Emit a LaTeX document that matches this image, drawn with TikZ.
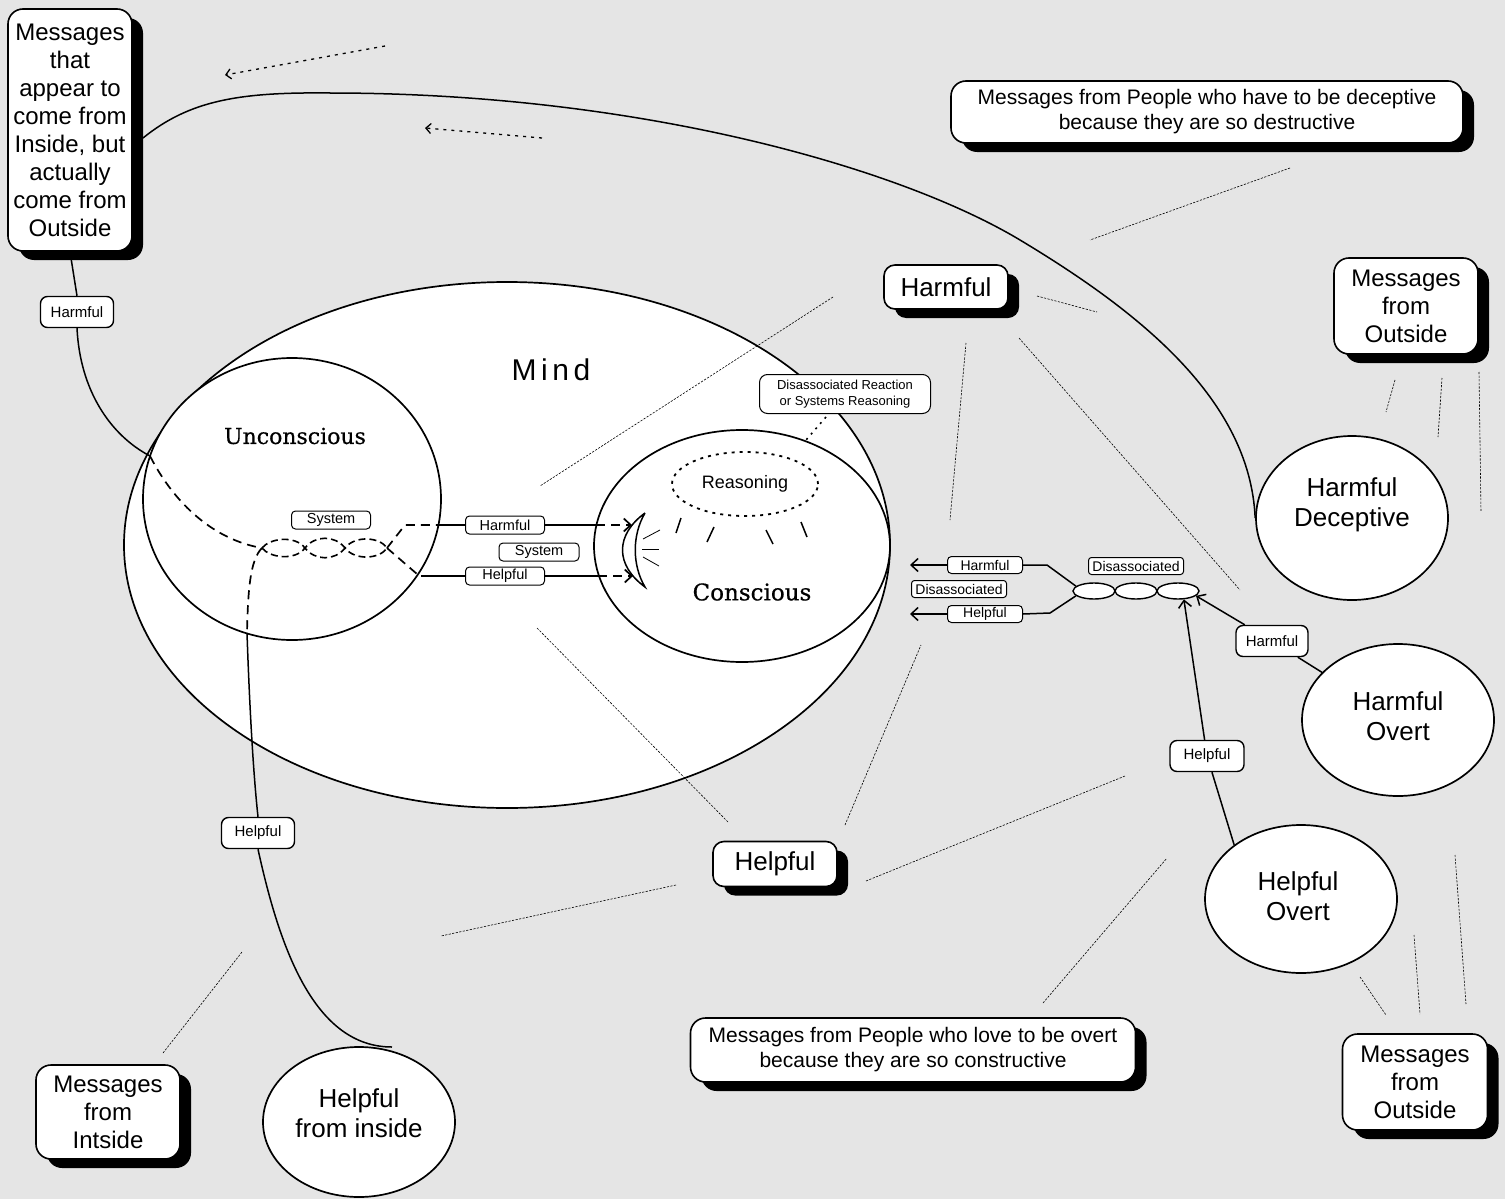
\documentclass[tikz,border=0pt]{standalone}
\usepackage{fontspec}
\setmainfont{Liberation Sans}
\newfontfamily\serifcap[FakeBold=0.6]{DejaVu Serif}
\newfontfamily\mindfont[LetterSpace=15]{Liberation Sans}
\usetikzlibrary{shapes.geometric,shadows,arrows.meta}
\definecolor{bgc}{RGB}{229,229,229}
\begin{document}
\begin{tikzpicture}[x=1pt,y=-1pt,
  ln/.style={line width=1.5pt},
  dsh/.style={line width=1.7pt, dash pattern=on 9pt off 6pt},
  dotl/.style={line width=0.6pt, dash pattern=on 2.2pt off 1.4pt},
  ell/.style={ellipse, draw, line width=1.7pt, fill=white, inner sep=0pt},
  shbox/.style={rectangle, draw, line width=1.6pt, fill=white, rounded corners=15pt, align=center, inner sep=0pt,
    drop shadow={shadow xshift=11pt, shadow yshift=-9pt, fill=black, opacity=1}},
  lbl/.style={rectangle, draw, line width=1pt, fill=white, rounded corners=4pt, inner sep=0pt, minimum height=18pt, font=\fontsize{14.5}{16}\selectfont},
  lblb/.style={rectangle, draw, line width=1.4pt, fill=white, rounded corners=7pt, inner sep=0pt, minimum height=31pt, minimum width=73pt, font=\fontsize{15}{17}\selectfont},
  arr/.style={-{Straight Barb[length=7pt,width=13pt]}},
  bigtxt/.style={font=\fontsize{24}{28}\selectfont},
  elltxt/.style={align=center, font=\fontsize{26}{30}\selectfont},
]
\fill[bgc] (0,0) rectangle (1505,1199);
\useasboundingbox (0,0) rectangle (1505,1199);

% ---------- Mind and its parts ----------
\node[ell, minimum width=766pt, minimum height=526pt] (mind) at (507,545) {};
\node[font=\mindfont\fontsize{30}{36}\selectfont] (mindlbl) at (551,370) {Mind};
\node[ell, minimum width=298pt, minimum height=282pt] (uncon) at (292,499) {};
\node[font=\serifcap\fontsize{22}{26}\selectfont] (unconlbl) at (295,436) {Unconscious};
\node[ell, minimum width=296pt, minimum height=232pt] (consc) at (742,546) {};
\node[font=\serifcap\fontsize{23}{27}\selectfont] (consclbl) at (752,592) {Conscious};
\node[ellipse, draw, line width=1.8pt, dash pattern=on 3pt off 5pt, minimum width=146pt, minimum height=64pt, inner sep=0pt,
  font=\fontsize{18}{20}\selectfont] (reas) at (745,484) {Reasoning};
\node[lbl, minimum width=171pt, minimum height=39pt, rounded corners=8pt, align=center, font=\fontsize{13}{16}\selectfont]
  (dr) at (845,394) {Disassociated Reaction\\or Systems Reasoning};
\draw[line width=1.6pt, dash pattern=on 2pt off 5pt] (826,417) coordinate (drA) -- (806,440) coordinate (drB);

% ticks under Reasoning
\draw[ln] (681,518) -- (676,533);
\draw[ln] (714,527) -- (707,542);
\draw[ln] (766,530) -- (773,544);
\draw[ln] (801,522) -- (807,537);

% crescent (eye)
\coordinate (crT) at (645,513);
\coordinate (crB) at (645,587);
\draw[ln] (crT) .. controls (615,535) and (615,565) .. (crB) .. controls (632,565) and (632,535) .. (crT);
\draw[line width=0.8pt] (643,539) -- (660,530);
\draw[line width=0.8pt] (642,549) -- (659,549);
\draw[line width=0.8pt] (643,557) -- (659,566);

% ---------- braid and system paths ----------
\coordinate (bL) at (262,548);
\coordinate (bR) at (387,548);
\draw[line width=1.6pt, dash pattern=on 7pt off 4pt]
  (bL) .. controls (270,538) and (295,535) .. (305,548) .. controls (315,561) and (335,561) .. (345,548)
       .. controls (355,535) and (380,537) .. (bR);
\draw[line width=1.6pt, dash pattern=on 7pt off 4pt]
  (bL) .. controls (270,558) and (295,561) .. (305,548) .. controls (315,535) and (335,535) .. (345,548)
       .. controls (355,561) and (380,559) .. (bR);

\node[lbl, minimum width=79pt] (sys1) at (331,520) {System};
\node[lbl, minimum width=80pt] (sys2) at (539,552) {System};
\node[lbl, minimum width=79pt] (hm1) at (505,525) {Harmful};
\node[lbl, minimum width=79pt] (hp0) at (505,576) {Helpful};

% harmful line
\draw[dsh] (bR) -- (405,525) -- (438,525) coordinate (uH);
\draw[ln] (uH) -- (hm1.west);
\draw[ln] (hm1.east) -- (596,525) coordinate (cH);
\draw[dsh, arr] (cH) -- (632,525) coordinate (mH);
% helpful line
\draw[dsh] (bR) -- (417,574) coordinate (uP);
\draw[ln] (uP) ++(4,2) coordinate (uP2) -- (hp0.west);
\draw[ln] (hp0.east) -- (598,576) coordinate (cP);
\draw[dsh, arr] (cP) -- (633,576) coordinate (mP);

% ---------- top-left box ----------
\node[shbox, bigtxt, minimum width=124pt, minimum height=242pt] (tlbox) at (70,130)
  {Messages\\that\\appear to\\come from\\Inside, but\\actually\\come from\\Outside};
\node[lblb, minimum width=73pt] (hl1) at (77,312) {Harmful};
\coordinate (ucL) at (150,456);
\draw[ln] (tlbox.south) -- (hl1.north);
\draw[ln] (hl1.south) .. controls (80,390) and (110,435) .. (ucL);
\draw[dsh] (ucL) .. controls (175,505) and (215,540) .. (bL);

% down to helpful from inside
\coordinate (ucB) at (247,633);
\draw[dsh] (bL) .. controls (250,560) and (248,590) .. (ucB);
\node[lblb] (hl2) at (258,833) {Helpful};
\draw[ln] (ucB) .. controls (250,720) and (254,780) .. (hl2.north);
\node[ell, minimum width=192pt, minimum height=150pt] (hfi) at (359,1122) {};
\node[elltxt] (hfit) at (359,1113) {Helpful\\from inside};
\draw[ln] (hl2.south) .. controls (280,950) and (315,1047) .. (392,1047) coordinate (hfiT);

\node[shbox, bigtxt, minimum width=144pt, minimum height=94pt] (mfi) at (108,1112) {Messages\\from\\Intside};
\draw[dotl] (163,1053) coordinate (mfiA) -- (242,952) coordinate (mfiB);

% ---------- top dotted arrows ----------
\draw[line width=1.3pt, dash pattern=on 3pt off 5pt, -{Straight Barb[length=5pt,width=10pt]}] (385,46) coordinate (ta1) -- (225,75) coordinate (ta2);
\draw[line width=1.3pt, dash pattern=on 3pt off 5pt, -{Straight Barb[length=5pt,width=10pt]}] (542,138) coordinate (ta3) -- (425,128) coordinate (ta4);

% ---------- right side ----------
\node[ell, minimum width=192pt, minimum height=164pt] (hd) at (1352,518) {};
\node[elltxt] (hdt) at (1352,505) {Harmful\\Deceptive};
\coordinate (tlR) at (143,138);
\draw[ln] (tlR) .. controls (190,100) and (240,92) .. (330,93)
  .. controls (640,93) and (900,168) .. (1020,240)
  .. controls (1140,312) and (1250,400) .. (hd.west);

\node[shbox, font=\fontsize{21}{25}\selectfont, minimum width=512pt, minimum height=62pt] (decbox) at (1207,112)
  {Messages from People who have to be deceptive\\because they are so destructive};
\draw[dotl] (1290,168) coordinate (dbA) -- (1090,240) coordinate (dbB);

\node[shbox, font=\fontsize{26}{30}\selectfont, rounded corners=11pt, minimum width=124pt, minimum height=44pt] (harmbox) at (946,287) {Harmful};
\draw[dotl] (1037,296) -- (1097,312);
\draw[dotl] (966,343) -- (950,520);
\draw[dotl] (1019,338) -- (1240,590);
\draw[dotl] (833,297) -- (540,486);

\node[shbox, font=\fontsize{26}{30}\selectfont, rounded corners=11pt, minimum width=124pt, minimum height=45pt] (helpbox) at (775,864) {Helpful};
\draw[dotl] (728,822) -- (537,628);
\draw[dotl] (845,825) -- (921,645);
\draw[dotl] (866,881) -- (1125,776);
\draw[dotl] (676,885) -- (441,936);

\node[shbox, bigtxt, minimum width=144pt, minimum height=96pt] (mfo1) at (1406,306) {Messages\\from\\Outside};
\draw[dotl] (1395,380) -- (1386,412);
\draw[dotl] (1442,378) -- (1438,437);
\draw[dotl] (1479,372) -- (1481,512);

\node[ell, minimum width=192pt, minimum height=152pt] (ho) at (1398,720) {};
\node[elltxt] (hot) at (1398,716) {Harmful\\Overt};
\node[ell, minimum width=192pt, minimum height=148pt] (hov) at (1301,899) {};
\node[elltxt] (hovt) at (1298,896) {Helpful\\Overt};

\node[shbox, bigtxt, minimum width=145pt, minimum height=96pt] (mfo2) at (1415,1082) {Messages\\from\\Outside};
\draw[dotl] (1360,977) -- (1386,1015);
\draw[dotl] (1414,935) -- (1420,1014);
\draw[dotl] (1455,855) -- (1466,1004);

\node[shbox, font=\fontsize{21}{25}\selectfont, minimum width=445pt, minimum height=64pt] (ovbox) at (913,1050)
  {Messages from People who love to be overt\\because they are so constructive};
\draw[dotl] (1043,1003) -- (1167,858);

% disassociated chain
\node[ellipse, draw, line width=1.4pt, fill=white, minimum width=42pt, minimum height=16pt, inner sep=0pt] (ch1) at (1094,591) {};
\node[ellipse, draw, line width=1.4pt, fill=white, minimum width=42pt, minimum height=16pt, inner sep=0pt] (ch2) at (1136,591) {};
\node[ellipse, draw, line width=1.4pt, fill=white, minimum width=42pt, minimum height=16pt, inner sep=0pt] (ch3) at (1178,591) {};
\node[lbl, minimum width=95pt, minimum height=17pt, rounded corners=3pt, font=\fontsize{14}{16}\selectfont] (dis1) at (1136,566) {Disassociated};
\node[lbl, minimum width=95pt, minimum height=17pt, rounded corners=3pt, font=\fontsize{14}{16}\selectfont] (dis2) at (959,589) {Disassociated};
\node[lbl, minimum width=75pt, minimum height=17pt, font=\fontsize{14}{16}\selectfont] (hcH) at (985,565) {Harmful};
\node[lbl, minimum width=75pt, minimum height=17pt, font=\fontsize{14}{16}\selectfont] (hcP) at (985,614) {Helpful};
\draw[ln] (hcH.east) -- (1047,565) -- (ch1.165);
\draw[ln] (hcP.east) -- (1050,613) -- (ch1.195);
\draw[ln, arr] (hcH.west) -- (910,565) coordinate (dsH);
\draw[ln, arr] (hcP.west) -- (910,614) coordinate (dsP);

\node[lblb, minimum width=72pt] (hl3) at (1272,641) {Harmful};
\node[lblb, minimum width=74pt] (hl4) at (1207,756) {Helpful};
\draw[ln] (ho) -- (hl3);
\draw[ln, arr] (hl3) -- (ch3.-15);
\draw[ln] (hov.141) -- (hl4);
\draw[ln, arr] (hl4) -- (ch3.-55);
\end{tikzpicture}
\end{document}
